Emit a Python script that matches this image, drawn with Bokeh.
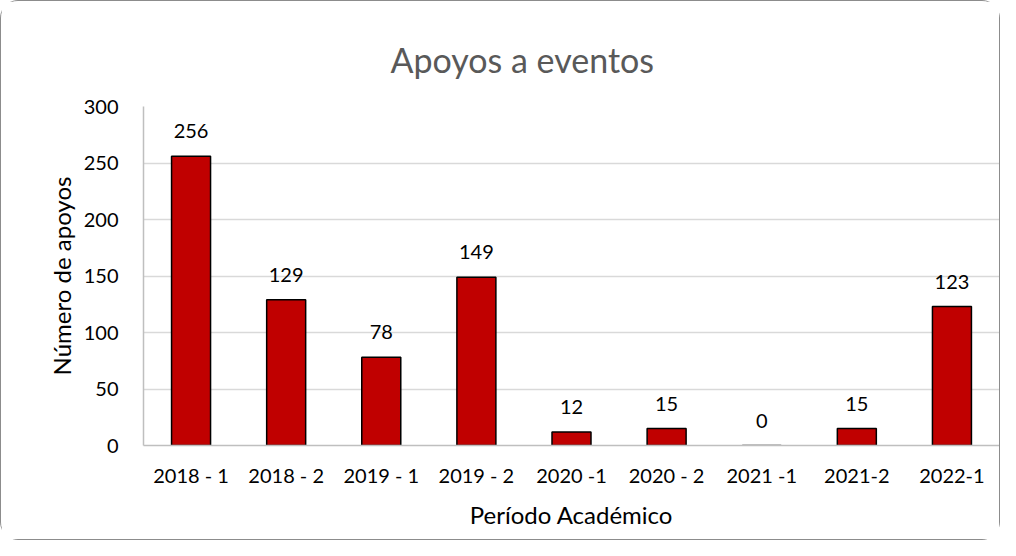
from bokeh.plotting import figure
from bokeh.models import ColumnDataSource, LabelSet, Title
from bokeh.core.properties import value
from bokeh.embed import file_html
from bokeh.resources import INLINE

periods = ["2018 - 1", "2018 - 2", "2019 - 1", "2019 - 2", "2020 -1",
           "2020 - 2", "2021 -1", "2021-2", "2022-1"]
apoyos = [256, 129, 78, 149, 12, 15, 0, 15, 123]

FONT = "Lato"

src = ColumnDataSource(dict(x=periods, y=apoyos, lbl=[str(v) for v in apoyos]))

p = figure(x_range=periods, y_range=(0, 300), width=1000, height=540,
           output_backend="svg", toolbar_location=None,
           min_border_left=142, min_border_right=2,
           min_border_top=105, min_border_bottom=96)

p.styles = {"border": "1.5px solid #8c8c8c", "border-radius": "18px",
            "box-sizing": "border-box"}

t = Title(text="Apoyos a eventos", align="left", offset=247,
          text_font=FONT, text_font_size="34px", text_font_style="normal",
          text_color="#595959", standoff=54)
p.add_layout(t, "above")

p.vbar(x="x", top="y", width=0.41, source=src,
       fill_color="#C00000", line_color="#000000", line_width=1.5)

labels = LabelSet(x="x", y="y", text="lbl", source=src, y_offset=18,
                  text_align="center", text_baseline="bottom",
                  text_font=value(FONT), text_font_size="20px",
                  text_color="#000000")
p.add_layout(labels)

p.outline_line_color = None
p.xgrid.grid_line_color = None
p.ygrid.grid_line_color = "#d9d9d9"
p.ygrid.grid_line_width = 1.5
p.yaxis.ticker = [0, 50, 100, 150, 200, 250, 300]

for ax in (p.xaxis, p.yaxis):
    ax.major_tick_line_color = None
    ax.minor_tick_line_color = None
    ax.axis_line_color = "#bfbfbf"
    ax.axis_line_width = 1.5
    ax.major_label_text_font = FONT
    ax.major_label_text_font_size = "20px"
    ax.major_label_text_color = "#000000"
    ax.axis_label_text_font = FONT
    ax.axis_label_text_font_size = "24px"
    ax.axis_label_text_font_style = "normal"
    ax.axis_label_text_color = "#000000"

p.xaxis.axis_label = "Período Académico"
p.yaxis.axis_label = "Número de apoyos"
p.xaxis.major_label_standoff = 11
p.xaxis.axis_label_standoff = 10
p.yaxis.major_label_standoff = 19
p.yaxis.axis_label_standoff = 5

open("out.html", "w").write(file_html(p, INLINE))
